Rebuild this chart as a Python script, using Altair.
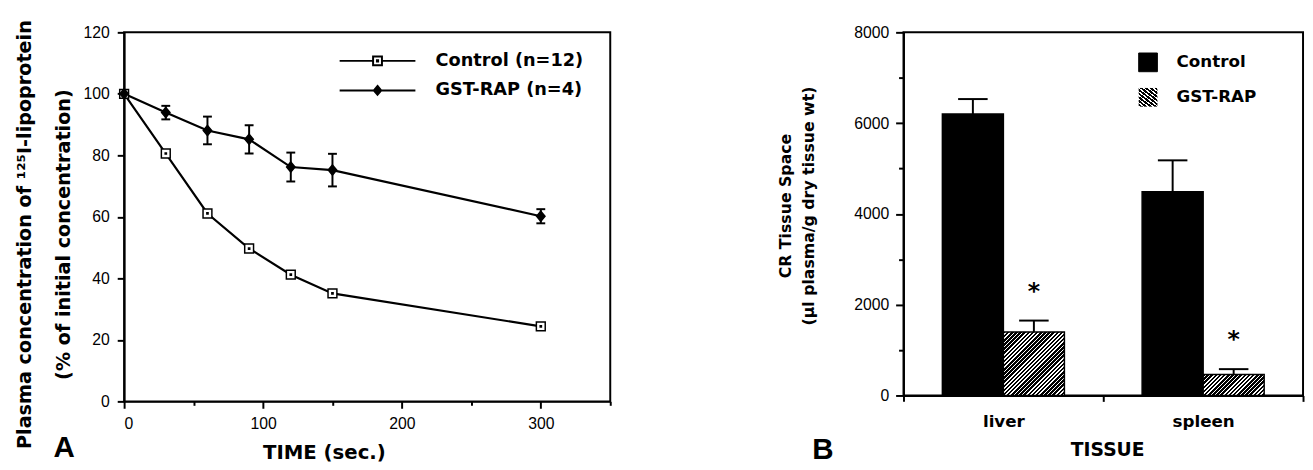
import json
import altair as alt
import pandas as pd

# ---------------- data ----------------
times = [0, 30, 60, 90, 120, 150, 300]
control_pct = [100, 80.6, 61.1, 49.7, 41.2, 35.1, 24.4]
gst_pct = [100, 93.9, 88.1, 85.2, 76.2, 75.2, 60.2]
gst_pct_err = [0, 2.2, 4.5, 4.6, 4.7, 5.3, 2.3]
series_names = ["Control (n=12)", "GST-RAP (n=4)"]

tissues = ["liver", "spleen"]
groups = ["Control", "GST-RAP"]
control_space = [6200, 4490]
control_space_err = [330, 690]
gst_space = [1400, 460]
gst_space_err = [250, 120]

panel_letters = ["A", "B"]

# ---------------- layout / style ----------------
WA, HA = 494, 375
WB, HB = 406, 369
TICK_FONT = "Liberation Sans"
BOLD_FONT = "DejaVu Sans"
OFFSET_PAD = 0.637

rowsA = []
for t, v in zip(times, control_pct):
    rowsA.append({"time": t, "value": v, "series": series_names[0]})
for t, v in zip(times, gst_pct):
    rowsA.append({"time": t, "value": v, "series": series_names[1]})
dfA = pd.DataFrame(rowsA)
dfAerr = pd.DataFrame([
    {"time": t, "lo": v - e, "hi": v + e}
    for t, v, e in zip(times, gst_pct, gst_pct_err) if e > 0
])

rowsB = []
for i, tis in enumerate(tissues):
    rowsB.append({"tissue": tis, "group": groups[0], "value": control_space[i],
                  "top": control_space[i] + control_space_err[i]})
    rowsB.append({"tissue": tis, "group": groups[1], "value": gst_space[i],
                  "top": gst_space[i] + gst_space_err[i]})
dfB = pd.DataFrame(rowsB)


def hatch(w, h, period=4.2, white=1.6):
    """diagonal '/' stripes as a linear gradient fitted to a w x h box"""
    L = w + h
    k = L / (w * w + h * h)
    stops = []
    n = int(L / period) + 1
    for i in range(n):
        s = round(min(i * period / L, 1), 4)
        m = round(min((i * period + period - white) / L, 1), 4)
        e = round(min((i + 1) * period / L, 1), 4)
        stops += [{"offset": s, "color": "black"}, {"offset": m, "color": "black"},
                  {"offset": m, "color": "white"}, {"offset": e, "color": "white"}]
    return {"gradient": "linear", "x1": 0, "y1": 0, "x2": round(w * k, 4),
            "y2": round(h * k, 4), "stops": stops}


step_b = WB / len(tissues)
bar_w = step_b / (2 + 2 * OFFSET_PAD)
grad_liver = hatch(bar_w, gst_space[0] / 8000 * HB)
grad_spleen = hatch(bar_w, gst_space[1] / 8000 * HB)
grad_legend = hatch(19, 19, period=5.5, white=1.5)

# ---------------- panel A ----------------
yscaleA = alt.Scale(domain=[0, 120], nice=False)
xscaleA = alt.Scale(domain=[0, 350], nice=False)

xA = alt.X("time:Q", scale=xscaleA, axis=alt.Axis(
    values=list(range(0, 351, 50)),
    labelExpr="datum.value % 100 === 0 ? datum.label : ''",
    tickSize={"condition": {"test": "datum.value % 100 === 0", "value": 7}, "value": 4},
    labelPadding=8, labelFont=TICK_FONT, labelFontSize=16,
    title="TIME (sec.)", titleFont=BOLD_FONT, titleFontWeight="bold", titleFontSize=20,
    titleX=203, titleY=42, titleAlign="center", titleBaseline="top"))
yA = alt.Y("value:Q", scale=yscaleA, axis=alt.Axis(
    values=list(range(0, 121, 10)),
    labelExpr="datum.value % 20 === 0 ? datum.label : ''",
    tickSize={"condition": {"test": "datum.value % 20 === 0", "value": 7}, "value": 4},
    labelPadding=8, labelFont=TICK_FONT, labelFontSize=16,
    title=["Plasma concentration of  ¹²⁵I-lipoprotein", "(% of initial concentration)"],
    titleFont=BOLD_FONT, titleFontWeight="bold", titleFontSize=19.5, titleLineHeight=39,
    titleAngle=270, titleX=-95, titleY=205, titleAlign="center", titleBaseline="alphabetic"))

pathC_leg = ("M-7.7,0H-0.9 M0.9,0H7.7 M-0.9,-0.9H0.9V0.9H-0.9Z "
             "M-0.12,-0.12H0.12V0.12H-0.12Z")
pathG_leg = "M-7.7,0H7.7 M0,-0.9L0.75,0L0,0.9L-0.75,0Z"
pathC = "M-1,-1H1V1H-1Z M-0.14,-0.14H0.14V0.14H-0.14Z"
pathG = "M0,-1.15L0.95,0L0,1.15L-0.95,0Z"

legend_common = dict(
    title=None, orient="none", padding=0, symbolSize=100, symbolStrokeWidth=2,
    symbolStrokeColor="black", symbolOpacity=1, labelOffset=50,
    labelFont=BOLD_FONT, labelFontWeight="bold", labelFontSize=18, labelColor="black")
legendAC = alt.Legend(legendX=248.5, legendY=20, symbolType=pathC_leg,
                      symbolFillColor="white", **legend_common)
legendAG = alt.Legend(legendX=248.5, legendY=50, symbolType=pathG_leg,
                      symbolFillColor="black", **legend_common)

lineAC = alt.Chart(dfA).transform_filter(
    "datum.series === '%s'" % series_names[0]).mark_line(strokeWidth=2.2).encode(
    x=xA, y=yA,
    color=alt.Color("series:N", scale=alt.Scale(domain=series_names[:1], range=["black"]),
                    legend=legendAC))
lineAG = alt.Chart(dfA).transform_filter(
    "datum.series === '%s'" % series_names[1]).mark_line(strokeWidth=2.2,
                                                         color="black").encode(
    x=alt.X("time:Q", scale=xscaleA), y=alt.Y("value:Q", scale=yscaleA),
    opacity=alt.Opacity("series:N", scale=alt.Scale(domain=series_names[1:], range=[1]),
                        legend=legendAG))
errA = alt.Chart(dfAerr).mark_rule(color="black", strokeWidth=2).encode(
    x=alt.X("time:Q", scale=xscaleA), y=alt.Y("lo:Q", scale=yscaleA), y2="hi:Q")
capLoA = alt.Chart(dfAerr).mark_tick(color="black", orient="horizontal", size=9,
                                     thickness=2, opacity=1).encode(
    x=alt.X("time:Q", scale=xscaleA), y=alt.Y("lo:Q", scale=yscaleA))
capHiA = alt.Chart(dfAerr).mark_tick(color="black", orient="horizontal", size=9,
                                     thickness=2, opacity=1).encode(
    x=alt.X("time:Q", scale=xscaleA), y=alt.Y("hi:Q", scale=yscaleA))
ptsA = alt.Chart(dfA).mark_point(filled=True, stroke="black", strokeWidth=1.5, size=81,
                                 opacity=1).encode(
    x=alt.X("time:Q", scale=xscaleA), y=alt.Y("value:Q", scale=yscaleA),
    shape=alt.Shape("series:N", scale=alt.Scale(domain=series_names, range=[pathC, pathG]),
                    legend=None),
    fill=alt.Fill("series:N", scale=alt.Scale(domain=series_names, range=["white", "black"]),
                  legend=None))
letterA = alt.Chart(pd.DataFrame({"t": [panel_letters[0]]})).mark_text(
    font=TICK_FONT, fontWeight="bold", fontSize=30, align="center", baseline="alphabetic",
    color="black").encode(x=alt.value(-61), y=alt.value(432), text="t:N")

panelA = alt.layer(lineAC, lineAG, errA, capLoA, capHiA, ptsA, letterA).properties(
    width=WA, height=HA)

# ---------------- panel B ----------------
xB = alt.X("tissue:N", scale=alt.Scale(domain=tissues, paddingInner=0, paddingOuter=0),
           axis=alt.Axis(labelAngle=0, tickBand="extent", tickSize=6, labelPadding=13,
                         labelFont=BOLD_FONT, labelFontWeight="bold", labelFontSize=17,
                         title="TISSUE", titleFont=BOLD_FONT, titleFontWeight="bold",
                         titleFontSize=19, titleX=207, titleY=46, titleAlign="center",
                         titleBaseline="top"))
xoB = alt.XOffset("group:N", scale=alt.Scale(domain=groups, paddingInner=0,
                                              paddingOuter=OFFSET_PAD))
yscaleB = alt.Scale(domain=[0, 8000], nice=False)
yB = alt.Y("value:Q", scale=yscaleB, axis=alt.Axis(
    values=list(range(0, 8001, 1000)), format="d",
    labelExpr="datum.value % 2000 === 0 ? datum.label : ''",
    tickSize={"condition": {"test": "datum.value % 2000 === 0", "value": 8}, "value": 5},
    labelPadding=7, labelFont=TICK_FONT, labelFontSize=16,
    title=["CR Tissue Space", "(µl plasma/g dry tissue wt)"],
    titleFont=BOLD_FONT, titleFontWeight="bold", titleFontSize=16, titleLineHeight=24,
    titleAngle=270, titleX=-115, titleY=176, titleAlign="center", titleBaseline="alphabetic"))

legendB_common = dict(
    title=None, orient="none", padding=0, symbolType="square", symbolSize=361,
    symbolStrokeColor="black", symbolStrokeWidth=1, symbolOpacity=1, labelOffset=19,
    labelFont=BOLD_FONT, labelFontWeight="bold", labelFontSize=17, labelColor="black")
legendBC = alt.Legend(legendX=238.5, legendY=20.5, symbolFillColor="black",
                      **legendB_common)
legendBG = alt.Legend(legendX=238.5, legendY=56,
                      symbolFillColor=alt.ExprRef(expr=json.dumps(grad_legend)),
                      **legendB_common)

barsB = alt.Chart(dfB).transform_filter("datum.group === 'Control'").mark_bar(
    stroke="black", strokeWidth=1.5).encode(
    x=xB, xOffset=xoB, y=yB,
    fill=alt.Fill("group:N", scale=alt.Scale(domain=groups[:1], range=["black"]),
                  legend=legendBC))
hatchB = alt.Chart(dfB).transform_filter("datum.group === 'GST-RAP'").mark_bar(
    stroke="black", strokeWidth=1.5).encode(
    x=xB, xOffset=xoB, y=alt.Y("value:Q", scale=yscaleB),
    fill=alt.condition("datum.tissue === 'liver'", alt.value(grad_liver),
                       alt.value(grad_spleen)),
    opacity=alt.Opacity("group:N", scale=alt.Scale(domain=groups[1:], range=[1]),
                        legend=legendBG))
errB = alt.Chart(dfB).mark_rule(color="black", strokeWidth=2).encode(
    x=xB, xOffset=xoB, y=alt.Y("value:Q", scale=yscaleB), y2="top:Q")
capB = alt.Chart(dfB).mark_tick(color="black", orient="horizontal", size=30, thickness=2,
                                opacity=1).encode(
    x=xB, xOffset=xoB, y=alt.Y("top:Q", scale=yscaleB))
starB = alt.Chart(dfB).transform_filter("datum.group === 'GST-RAP'").mark_text(
    text="*", font=BOLD_FONT, fontWeight="bold", fontSize=24, dy=-22,
    baseline="alphabetic", color="black").encode(
    x=xB, xOffset=xoB, y=alt.Y("top:Q", scale=yscaleB))
letterB = alt.Chart(pd.DataFrame({"t": [panel_letters[1]]})).mark_text(
    font=TICK_FONT, fontWeight="bold", fontSize=30, align="center", baseline="alphabetic",
    color="black").encode(x=alt.value(-82), y=alt.value(434), text="t:N")

panelB = alt.layer(barsB, hatchB, errB, capB, starB, letterB).properties(
    width=WB, height=HB)

chart = alt.hconcat(panelA, panelB, spacing=167).resolve_scale(
    color="independent", fill="independent", shape="independent", opacity="independent",
    x="independent", y="independent"
).properties(
    padding={"left": 5, "top": 3, "right": 0, "bottom": 0},
    background="white"
).configure_view(
    stroke="black", strokeWidth=2
).configure_axis(
    domainColor="black", domainWidth=2, tickColor="black", tickWidth=2,
    labelColor="black", titleColor="black", grid=False
)

chart.save("out.html", embed_options={"renderer": "svg", "actions": False})
